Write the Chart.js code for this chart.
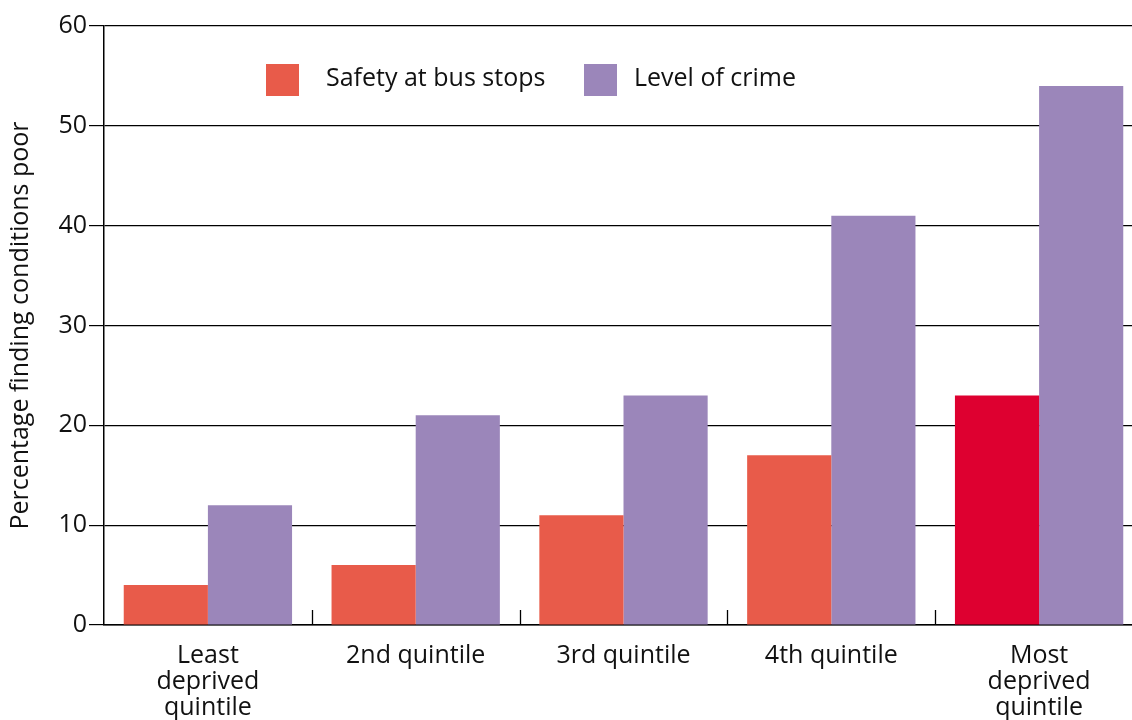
<!DOCTYPE html>
<html>
<head>
<meta charset="utf-8">
<script src="https://cdn.jsdelivr.net/npm/chart.js@4"></script>
<style>
  html, body { margin: 0; padding: 0; background: #fff; overflow: hidden; }
  #wrap { width: 1132px; height: 720px; overflow: hidden; }
</style>
</head>
<body>
<div id="wrap"><canvas id="grafico" width="1143" height="720"></canvas></div>
<script>
// dados do gráfico
var categorias = [['Least', 'deprived', 'quintile'], '2nd quintile', '3rd quintile', '4th quintile', ['Most', 'deprived', 'quintile']];
var seguranca = [4, 6, 11, 17, 23];      // Safety at bus stops
var crime = [12, 21, 23, 41, 54];        // Level of crime
var nomesSeries = ['Safety at bus stops', 'Level of crime'];
var coresSeguranca = ['#e85b4a', '#e85b4a', '#e85b4a', '#e85b4a', '#de0030'];
var corCrime = '#9b86ba';
var tituloY = 'Percentage finding conditions poor';

var fonte = '"Open Sans", "DejaVu Sans", sans-serif';

// marquinhas entre as categorias (pra dentro do gráfico)
var marcasX = {
  id: 'marcasX',
  afterDatasetsDraw(chart) {
    var ctx = chart.ctx;
    var x = chart.scales.x;
    var base = chart.chartArea.bottom;
    var meio = (x.getPixelForValue(1) - x.getPixelForValue(0)) / 2;
    ctx.save();
    ctx.strokeStyle = '#000';
    ctx.lineWidth = 1.3;
    for (var i = 1; i < categorias.length; i++) {
      var px = Math.round(x.getPixelForValue(i) - meio) + 0.5;
      ctx.beginPath();
      ctx.moveTo(px, base - 15);
      ctx.lineTo(px, base);
      ctx.stroke();
    }
    ctx.restore();
  }
};

// legenda desenhada na mão
var legenda = {
  id: 'legenda',
  afterDraw(chart) {
    var ctx = chart.ctx;
    var itens = [
      { cor: coresSeguranca[0], texto: chart.data.datasets[0].label, box: 266, txt: 326 },
      { cor: corCrime, texto: chart.data.datasets[1].label, box: 584, txt: 634 }
    ];
    ctx.save();
    ctx.font = '25px ' + fonte;
    ctx.textBaseline = 'middle';
    itens.forEach(function (it) {
      ctx.fillStyle = it.cor;
      ctx.fillRect(it.box, 64, 33, 32);
      ctx.fillStyle = '#111';
      ctx.fillText(it.texto, it.txt, 79);
    });
    ctx.restore();
  }
};

var config = {
  type: 'bar',
  data: {
    labels: categorias,
    datasets: [{
      label: nomesSeries[0],
      data: seguranca,
      backgroundColor: coresSeguranca,
      categoryPercentage: 0.81,
      barPercentage: 1
    }, {
      label: nomesSeries[1],
      data: crime,
      backgroundColor: corCrime,
      categoryPercentage: 0.81,
      barPercentage: 1
    }]
  },
  options: {
    responsive: false,
    animation: false,
    layout: { padding: { top: 26, right: 0, bottom: 0, left: 0 } },
    plugins: {
      legend: { display: false },
      tooltip: { enabled: false }
    },
    scales: {
      x: {
        grid: { display: false },
        border: { display: true, color: '#000', width: 1.5 },
        ticks: {
          color: '#111',
          font: { family: fonte, size: 25, lineHeight: 1.03 },
          padding: 10,
          maxRotation: 0,
          autoSkip: false
        },
        afterFit(scale) { scale.height = 95; }
      },
      y: {
        min: 0,
        max: 60,
        ticks: {
          stepSize: 10,
          color: '#111',
          padding: 2,
          font: { family: fonte, size: 25 }
        },
        grid: {
          color: '#000',
          lineWidth: 1.2,
          tickLength: 15,
          tickColor: '#000'
        },
        border: { display: true, color: '#000', width: 1.5 },
        title: {
          display: true,
          text: tituloY,
          color: '#111',
          font: { family: fonte, size: 25 },
          padding: { top: 6, bottom: 0 }
        },
        afterFit(scale) { scale.width = 104; }
      }
    }
  },
  plugins: [marcasX, legenda]
};

var ctxGrafico = document.getElementById('grafico').getContext('2d');
new Chart(ctxGrafico, config);
</script>
</body>
</html>
